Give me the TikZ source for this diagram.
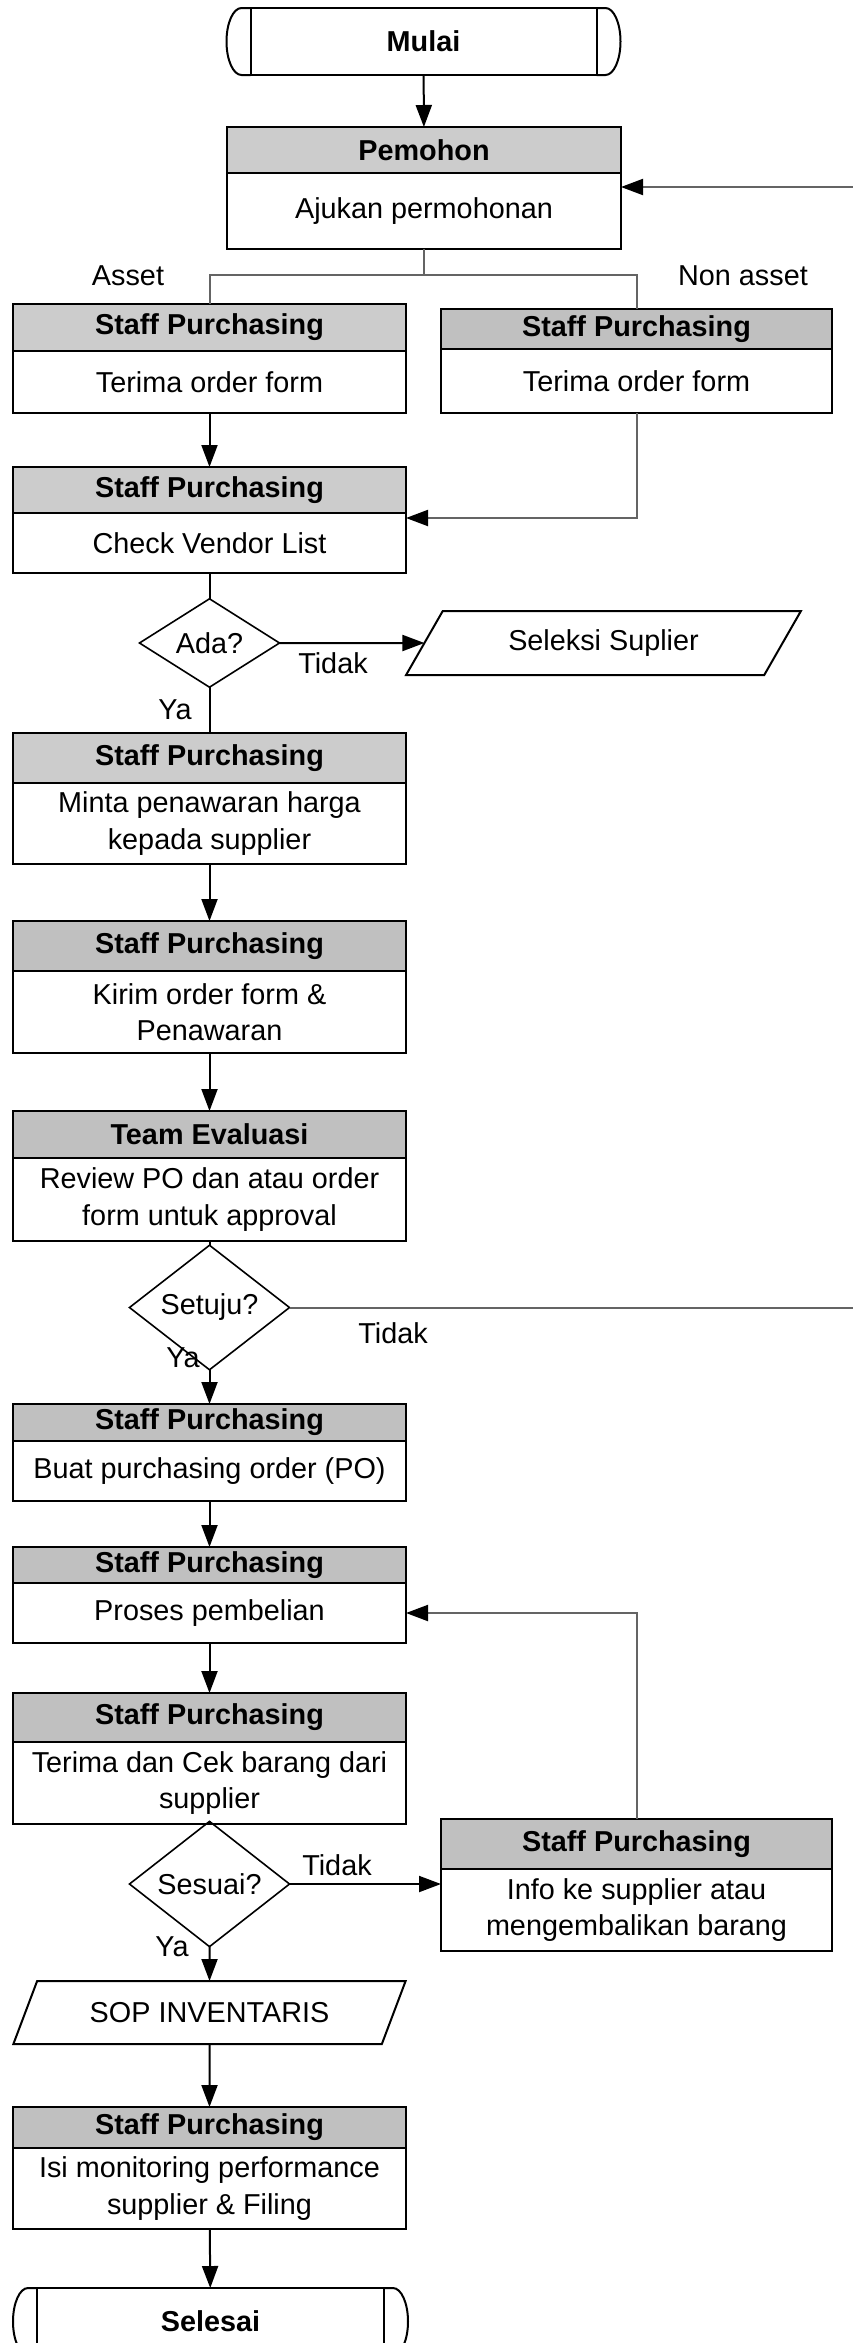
\documentclass[tikz,border=0pt]{standalone}
\usepackage{fontspec}
\setmainfont{Liberation Sans}
\usetikzlibrary{arrows.meta,positioning,shapes.geometric}
\definecolor{headlight}{RGB}{204,204,204}
\definecolor{headdark}{RGB}{192,192,192}
\definecolor{linegray}{RGB}{100,100,100}
\newcommand{\flowfont}{\fontsize{28.8}{36.5}\selectfont}

\begin{document}
\begin{tikzpicture}[x=1pt,y=-1pt,line width=2pt,
  >={Triangle[length=22pt,width=16pt,color=black]},
  every node/.style={font=\flowfont,outer sep=0pt},
  head/.style={draw,fill=headdark,minimum width=393,inner sep=0pt,font=\flowfont\bfseries},
  body/.style={draw,fill=white,minimum width=393,inner sep=0pt,align=center},
  term/.style={draw,minimum width=346,minimum height=67,font=\flowfont\bfseries},
  decision/.style={diamond,draw,line width=1.6pt,inner sep=0pt},
  io/.style={trapezium,trapezium left angle=51,trapezium right angle=129,
    trapezium stretches=true,draw,minimum width=393,minimum height=63,inner sep=0pt},
  branch/.style={draw=linegray},
  lbl/.style={inner sep=0pt}]

  \useasboundingbox (0,0) rectangle (853,2343);

  % start and requester
  \node[term] (mulai) at (423.5,41.5) {Mulai};
  \draw (mulai.north west) -- ++(-9,0) arc[start angle=90,end angle=270,x radius=15pt,y radius=33.5pt] -- (mulai.south west);
  \draw (mulai.north east) -- ++(9,0) arc[start angle=90,end angle=-90,x radius=15pt,y radius=33.5pt] -- (mulai.south east);

  \node[head,fill=headlight,minimum width=394,minimum height=46] (pemh) at (424,150) {Pemohon};
  \node[body,minimum width=394,minimum height=76,below=0pt of pemh] (pem) {Ajukan permohonan};

  % asset / non asset
  \node[head,fill=headlight,minimum height=47] (sp1h) at (209.5,327.5) {Staff Purchasing};
  \node[body,minimum height=62,below=0pt of sp1h] (sp1) {Terima order form};
  \node[head,minimum width=391,minimum height=40] (sp2h) at (636.5,329) {Staff Purchasing};
  \node[body,minimum width=391,minimum height=64,below=0pt of sp2h] (sp2) {Terima order form};
  \node[lbl] (asset) at (128,276) {Asset};
  \node[lbl] (nonasset) at (743,276) {Non asset};

  \node[head,fill=headlight,minimum height=46] (sp3h) at (209.5,490) {Staff Purchasing};
  \node[body,minimum height=60,below=0pt of sp3h] (sp3) {Check Vendor List};

  \node[decision,minimum width=140,minimum height=72] (ada) at (209.5,643) {Ada?};
  \node[io,minimum width=395,minimum height=64] (sel) at (603.5,643) {Seleksi Suplier};
  \node[lbl] (tidak1) at (333,663) {Tidak};
  \node[lbl] (ya1) at (175,710) {Ya};

  \node[head,fill=headlight,minimum height=50] (sp4h) at (209.5,758) {Staff Purchasing};
  \node[body,minimum height=81,below=0pt of sp4h] (sp4) {Minta penawaran harga\\kepada supplier};

  \node[head,minimum height=50] (sp5h) at (209.5,946) {Staff Purchasing};
  \node[body,minimum height=82,below=0pt of sp5h] (sp5) {Kirim order form \&\\Penawaran};

  \node[head,minimum height=47] (teh) at (209.5,1134.5) {Team Evaluasi};
  \node[body,minimum height=83,below=0pt of teh] (te) {Review PO dan atau order\\form untuk approval};

  \node[decision,minimum width=160,minimum height=81] (setuju) at (209.5,1307.5) {Setuju?};
  \node[lbl] (tidak2) at (393,1333) {Tidak};
  \node[lbl] (ya2) at (183,1358) {Ya};

  \node[head,minimum height=37] (sp6h) at (209.5,1422.5) {Staff Purchasing};
  \node[body,minimum height=60,below=0pt of sp6h] (sp6) {Buat purchasing order (PO)};

  \node[head,minimum height=36] (sp7h) at (209.5,1565) {Staff Purchasing};
  \node[body,minimum height=60,below=0pt of sp7h] (sp7) {Proses pembelian};

  \node[head,minimum height=49] (sp8h) at (209.5,1717.5) {Staff Purchasing};
  \node[body,minimum height=82,below=0pt of sp8h] (sp8) {Terima dan Cek barang dari\\supplier};

  \node[decision,minimum width=160,minimum height=82] (sesuai) at (209.5,1884) {Sesuai?};
  \node[lbl] (tidak3) at (337,1865) {Tidak};
  \node[lbl] (ya3) at (172,1947) {Ya};

  \node[head,minimum width=391,minimum height=50] (sp9h) at (636.5,1844) {Staff Purchasing};
  \node[body,minimum width=391,minimum height=82,below=0pt of sp9h] (sp9) {Info ke supplier atau\\mengembalikan barang};

  \node[io] (sop) at (209.5,2012.5) {SOP INVENTARIS};

  \node[head,minimum height=41] (sp10h) at (209.5,2127.5) {Staff Purchasing};
  \node[body,minimum height=81,below=0pt of sp10h] (sp10) {Isi monitoring performance\\supplier \& Filing};

  \node[term,minimum width=347] (selesai) at (210.5,2321.5) {Selesai};
  \draw (selesai.north west) -- ++(-9,0) arc[start angle=90,end angle=270,x radius=15pt,y radius=33.5pt] -- (selesai.south west);
  \draw (selesai.north east) -- ++(9,0) arc[start angle=90,end angle=-90,x radius=15pt,y radius=33.5pt] -- (selesai.south east);

  % connectors
  \coordinate (fbin) at (853,187);
  \coordinate (fbout) at (853,1307.5);

  \draw[->] (mulai) -- (pemh);
  \draw[branch] (pem.south) -- ++(0,26) -| (sp1h.north);
  \draw[branch] (pem.south) -- ++(0,26) -| (sp2h.north);
  \draw[branch,->] (fbin) -- ([yshift=-14pt]pem.north east);
  \draw[->] (sp1) -- (sp3h);
  \draw[branch,->] (sp2.south) |- ([yshift=-5pt]sp3.north east);
  \draw (sp3) -- (ada);
  \draw[->] (ada) -- (sel);
  \draw (ada) -- (sp4h);
  \draw[->] (sp4) -- (sp5h);
  \draw[->] (sp5) -- (teh);
  \draw (te) -- (setuju);
  \draw[branch] (setuju) -- (fbout);
  \draw[->] (setuju) -- (sp6h);
  \draw[->] (sp6) -- (sp7h);
  \draw[->] (sp7) -- (sp8h);
  \draw (sp8) -- (sesuai);
  \draw[->] (sesuai) -- (sesuai -| sp9.west);
  \draw[branch,->] (sp9h.north) |- (sp7.east);
  \draw[->] (sesuai) -- (sop);
  \draw[->] (sop) -- (sp10h);
  \draw[->] (sp10) -- (selesai);
\end{tikzpicture}
\end{document}
